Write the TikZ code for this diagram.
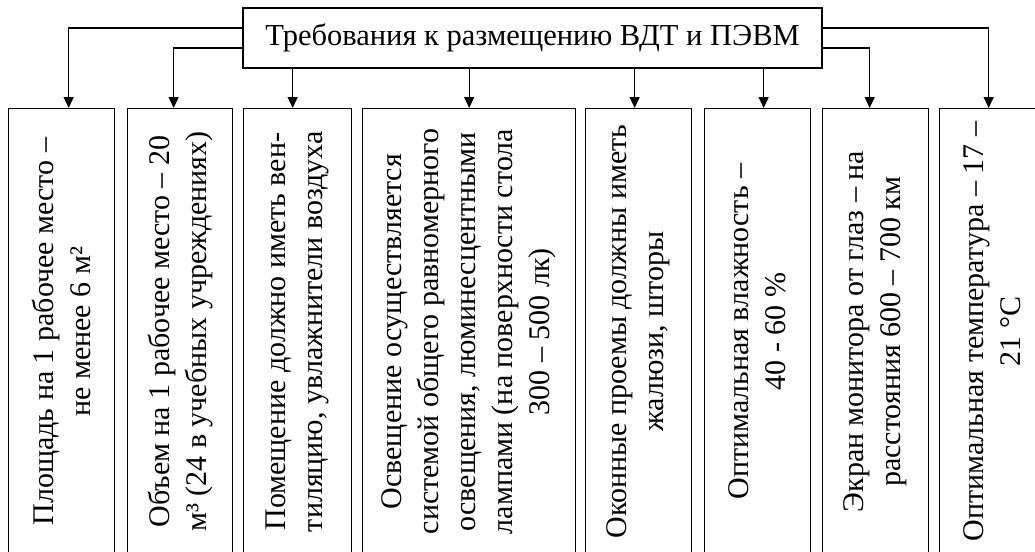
\documentclass[tikz,border=0pt]{standalone}
\usepackage{fontspec}
\setmainfont{Liberation Serif}
\usetikzlibrary{arrows.meta,positioning}

\tikzset{
  blk/.style={draw, line width=1.3pt, minimum height=446pt, inner sep=0pt,
    anchor=north west},
  txt/.style={rotate=90, align=center, inner sep=0pt,
    font=\fontsize{30}{37}\selectfont},
  arr/.style={-{Triangle[length=11pt,width=10pt]}, line width=1.3pt},
}

\begin{document}
\begin{tikzpicture}[x=1pt,y=-1pt]

  \useasboundingbox (0,0) rectangle (1035,551);
  \clip (0,0) rectangle (1035,551);

  \node[draw, line width=1.3pt, minimum width=579pt, minimum height=60pt,
    inner sep=0pt, font=\fontsize{30.5}{37}\selectfont]
    (top) at (532.5,38) {Требования к размещению ВДТ и ПЭВМ};

  \node[blk, minimum width=106pt] (b1) at (8,108) {};
  \node[blk, minimum width=105pt] (b2) at (127,108) {};
  \node[blk, minimum width=108pt] (b3) at (243,108) {};
  \node[blk, minimum width=213pt] (b4) at (362,108) {};
  \node[blk, minimum width=106pt] (b5) at (585,108) {};
  \node[blk, minimum width=106pt] (b6) at (704,108) {};
  \node[blk, minimum width=106pt] (b7) at (822,108) {};
  \node[blk, minimum width=106pt] (b8) at (939,108) {};

  \node[txt] (t1) at (b1.center) {Площадь на 1 рабочее место –\\не менее 6 м²};
  \node[txt] (t2) at (b2.center) {Объем на 1 рабочее место – 20\\м³ (24 в учебных учреждениях)};
  \node[txt] (t3) at (b3.center) {Помещение должно иметь вен-\\тиляцию, увлажнители воздуха};
  \node[txt] (t4) at (b4.center) {Освещение осуществляется\\системой общего равномерного\\освещения, люминесцентными\\лампами (на поверхности стола\\300 – 500 лк)};
  \node[txt] (t5) at (b5.center) {Оконные проемы должны иметь\\жалюзи, шторы};
  \node[txt] (t6) at (b6.center) {Оптимальная влажность –\\40 - 60 \%};
  \node[txt] (t7) at (b7.center) {Экран монитора от глаз – на\\расстояния 600 – 700 км};
  \node[txt] (t8) at (b8.center) {Оптимальная температура – 17 –\\21 °С};

  \draw[arr] ([yshift=10pt]top.west) -| ([xshift=7pt]b1.north); %% top -> 1
  \draw[arr] ([yshift=-10pt]top.west) -| ([xshift=-6.5pt]b2.north); %% top -> 2
  \draw[arr] ([xshift=-5pt]b3.north |- top.south) -- ([xshift=-5pt]b3.north);
  \draw[arr] (b4.north |- top.south) -- (b4.north);
  \draw[arr] ([xshift=-4pt]b5.north |- top.south) -- ([xshift=-4pt]b5.north);
  \draw[arr] ([xshift=6pt]b6.north |- top.south) -- ([xshift=6pt]b6.north);
  \draw[arr] ([yshift=-10pt]top.east) -| ([xshift=-6pt]b7.north); %% top -> 7
  \draw[arr] ([yshift=10pt]top.east) -| ([xshift=-4pt]b8.north); %% top -> 8

\end{tikzpicture}
\end{document}
